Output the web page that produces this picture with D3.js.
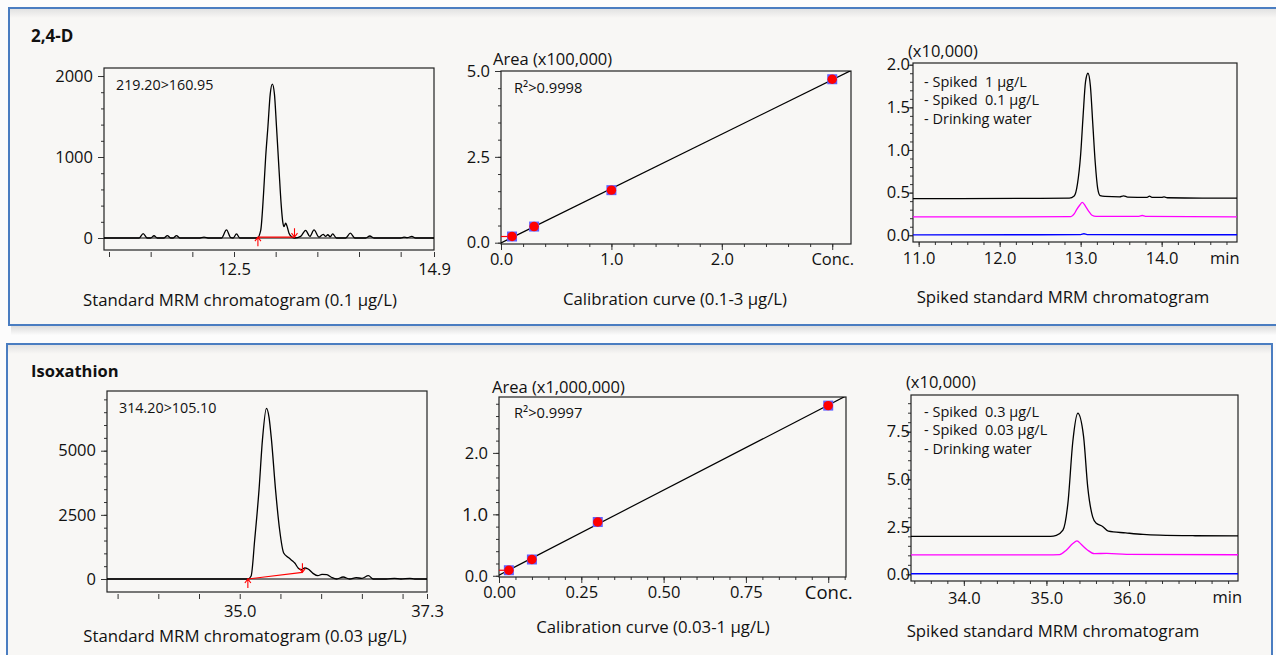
<!DOCTYPE html>
<html>
<head>
<meta charset="utf-8">
<script src="https://cdn.jsdelivr.net/npm/d3@7"></script>
<style>
  body { margin: 0; background: #fcfcfc; }
  svg { display: block; font-family: "Open Sans", sans-serif; }
</style>
</head>
<body>
<svg id="fig" width="1276" height="655"></svg>
<script>
// ---------------- data ----------------
const compounds = ['2,4-D', 'Isoxathion'];

// 2,4-D standard MRM chromatogram 0.1 ug/L  [min, intensity]
const d24Std = [[10.94,0],[11.36,0],[11.41,55],[11.46,0],[11.5,0],[11.54,28],[11.58,0],[11.66,0],[11.7,30],[11.74,0],
  [11.77,0],[11.81,30],[11.85,0],[12.08,0],[12.14,12],[12.2,0],[12.35,0],[12.41,100],[12.46,5],[12.49,0],[12.53,50],
  [12.57,0],[12.78,0],[12.82,90],[12.855,555],[12.88,1000],[12.907,1374],[12.935,1780],[12.96,1900],[12.985,1780],
  [13.01,1374],[13.04,850],[13.067,400],[13.085,200],[13.1,140],[13.12,185],[13.135,150],[13.16,60],[13.2,8],[13.23,0],
  [13.3,20],[13.36,95],[13.41,20],[13.46,100],[13.52,10],[13.57,45],[13.6,20],[13.625,40],[13.655,15],[13.684,50],
  [13.73,0],[13.84,0],[13.896,60],[13.95,0],[14.08,0],[14.13,25],[14.18,0],[14.5,0],[14.54,10],[14.58,5],[14.634,20],
  [14.68,0],[14.9,0]];
const d24Integ = [[12.787, 10], [13.226, 10]];
const d24Ion = '219.20>160.95';

// 2,4-D calibration
const d24Conc = [0.1, 0.3, 1.0, 3.0];
const d24Area = [0.18, 0.47, 1.53, 4.76];
const d24R2 = 'R²>0.9998';

// 2,4-D spiked chromatograms (x10,000)
const d24Spk1 = [[10.93,0.43],[11.5,0.43],[12.5,0.432],[12.86,0.435],[12.92,0.46],[12.96,0.6],[13.0,0.95],[13.03,1.4],
  [13.06,1.8],[13.09,1.9],[13.12,1.75],[13.15,1.3],[13.18,0.85],[13.21,0.55],[13.24,0.465],[13.3,0.455],[13.48,0.45],
  [13.53,0.462],[13.58,0.448],[13.82,0.445],[13.85,0.458],[13.88,0.444],[14.0,0.444],[14.03,0.45],[14.07,0.44],
  [14.5,0.435],[14.93,0.435]];
const d24Spk01 = [[10.93,0.215],[12.0,0.215],[12.88,0.218],[12.92,0.25],[12.95,0.3],[12.99,0.355],[13.02,0.385],
  [13.06,0.34],[13.1,0.28],[13.14,0.235],[13.19,0.222],[13.72,0.222],[13.76,0.232],[13.8,0.222],[14.93,0.215]];
const d24Water = [[10.93,0.005],[12.5,0.006],[13.0,0.008],[13.04,0.018],[13.08,0.008],[14.93,0.006]];
const d24Legend = ['- Spiked  1 µg/L', '- Spiked  0.1 µg/L', '- Drinking water'];

// Isoxathion standard MRM chromatogram 0.03 ug/L
const isoStd = [[33.37,0],[35.1,0],[35.14,120],[35.184,1530],[35.237,3475],[35.279,5420],[35.328,6650],[35.36,6300],
  [35.39,5420],[35.44,3475],[35.49,1918],[35.54,1012],[35.606,817],[35.65,700],[35.676,622],[35.72,420],[35.758,362],
  [35.8,430],[35.84,389],[35.9,220],[35.96,130],[36.01,180],[36.07,169],[36.13,60],[36.19,0],[36.27,78],[36.35,0],
  [36.43,52],[36.5,26],[36.58,130],[36.64,0],[36.8,0],[36.9,26],[36.98,0],[37.09,26],[37.15,0],[37.3,0]];
const isoInteg = [[35.1, 0], [35.77, 260]];
const isoIon = '314.20>105.10';

// Isoxathion calibration
const isoConc = [0.03, 0.1, 0.3, 1.0];
const isoArea = [0.09, 0.265, 0.875, 2.77];
const isoR2 = 'R²>0.9997';

// Isoxathion spiked chromatograms (x10,000)
const isoSpk03 = [[33.36,2.0],[34.5,2.0],[35.05,2.0],[35.12,2.05],[35.2,2.32],[35.26,3.73],[35.32,7.0],[35.38,8.47],
  [35.45,7.24],[35.5,4.6],[35.56,3.02],[35.6,2.7],[35.68,2.52],[35.75,2.27],[35.96,2.18],[36.17,2.1],[36.37,2.06],
  [36.8,2.03],[37.32,2.02]];
const isoSpk003 = [[33.36,1.02],[35.0,1.02],[35.16,1.04],[35.24,1.27],[35.32,1.62],[35.37,1.76],[35.42,1.58],
  [35.5,1.27],[35.58,1.09],[35.73,1.1],[35.97,1.05],[37.32,1.03]];
const isoWater = [[33.36,0.03],[35.2,0.03],[37.32,0.03]];
const isoLegend = ['- Spiked  0.3 µg/L', '- Spiked  0.03 µg/L', '- Drinking water'];

// tick values / labels
const d24StdYTicks = [0, 1000, 2000];
const d24StdXTicks = [11.0, 11.5, 12.0, 12.5, 13.0, 13.5, 14.0, 14.5, 14.9];
const d24StdXLabels = ['', '', '', '12.5', '', '', '', '', '14.9'];
const d24CalYTicks = [0, 2.5, 5.0];
const d24CalXTicks = [0, 1, 2, 3];
const d24CalXLabels = ['0.0', '1.0', '2.0', 'Conc.'];
const d24SpkYTicks = [0, 0.5, 1.0, 1.5, 2.0];
const d24SpkXTicks = [11, 12, 13, 14];
const isoStdYTicks = [0, 2500, 5000];
const isoStdXTicks = [33.5, 34.0, 34.5, 35.0, 35.5, 36.0, 36.5, 37.0, 37.3];
const isoStdXLabels = ['', '', '', '35.0', '', '', '', '', '37.3'];
const isoCalYTicks = [0, 1, 2];
const isoCalXTicks = [0, 0.25, 0.5, 0.75, 1.0];
const isoCalXLabels = ['0.00', '0.25', '0.50', '0.75', 'Conc.'];
const isoSpkYTicks = [0, 2.5, 5.0, 7.5];
const isoSpkXTicks = [34, 35, 36];

// ---------------- page ----------------
const svg = d3.select('#fig');
const defs = svg.append('defs');
const topShade = defs.append('linearGradient').attr('id', 'topShade')
  .attr('x1', 0).attr('y1', 0).attr('x2', 0).attr('y2', 1);
topShade.append('stop').attr('offset', '0%').attr('stop-color', '#e2e2e2');
topShade.append('stop').attr('offset', '100%').attr('stop-color', '#f8f7f5');
const dropShade = defs.append('linearGradient').attr('id', 'dropShade')
  .attr('x1', 0).attr('y1', 0).attr('x2', 0).attr('y2', 1);
dropShade.append('stop').attr('offset', '0%').attr('stop-color', '#d9d9d9');
dropShade.append('stop').attr('offset', '100%').attr('stop-color', '#fbfbfb');

const panels = [{x: 9, y: 8, w: 1270, h: 317}, {x: 7, y: 344, w: 1265, h: 330}];
panels.forEach(p => {
  svg.append('rect').attr('x', p.x + 2).attr('y', p.y + p.h).attr('width', p.w).attr('height', 10)
    .attr('fill', 'url(#dropShade)');
  svg.append('rect').attr('x', p.x).attr('y', p.y).attr('width', p.w).attr('height', p.h)
    .attr('fill', '#f8f7f5').attr('stroke', '#4a7dc1').attr('stroke-width', 2);
  svg.append('rect').attr('x', p.x + 1).attr('y', p.y + 1).attr('width', p.w - 2).attr('height', 9)
    .attr('fill', 'url(#topShade)');
});

function text(x, y, s, size, opts = {}) {
  return svg.append('text').attr('x', x).attr('y', y)
    .attr('text-anchor', opts.anchor || 'start')
    .style('font-size', size + 'px')
    .style('font-weight', opts.bold ? 'bold' : 'normal')
    .style('white-space', 'pre')
    .attr('fill', '#111').text(s);
}

// plot frame with scales + axes
function frame(o) {
  const w = o.box.r - o.box.l, h = o.box.b - o.box.t;
  const x = d3.scaleLinear().domain(o.xDomain).range([0, w]);
  const y = d3.scaleLinear().domain(o.yDomain).range([h, 0]);
  const g = svg.append('g').attr('transform', `translate(${o.box.l},${o.box.t})`);
  const clipId = 'clip' + Math.round(o.box.l) + Math.round(o.box.t);
  defs.append('clipPath').attr('id', clipId).append('rect').attr('width', w).attr('height', h);

  // y axis (minor, then major)
  g.append('g').attr('class', 'ax').call(d3.axisLeft(y).tickValues(o.yMinor).tickSize(3).tickFormat(''));
  g.append('g').attr('class', 'ax').call(d3.axisLeft(y).tickValues(o.yMajor)
    .tickSize(o.ySize).tickPadding(o.yPad).tickFormat(o.yFmt));
  // x axis
  const xg = g.append('g').attr('transform', `translate(0,${h + (o.xGap || 0)})`);
  if (o.xMinor) xg.append('g').attr('class', 'ax').call(d3.axisBottom(x).tickValues(o.xMinor).tickSize(3).tickFormat(''));
  xg.append('g').attr('class', 'ax').call(d3.axisBottom(x).tickValues(o.xMajor)
    .tickSize(o.xSize).tickPadding(o.xPad).tickFormat((d, i) => o.xLabels[i]));

  g.selectAll('.ax .domain').remove();
  g.selectAll('.ax line').attr('stroke', '#333');
  g.selectAll('.ax text').style('font-size', '16.5px').style('font-family', '"Open Sans", sans-serif').attr('fill', '#111');

  g.append('rect').attr('width', w).attr('height', h).attr('fill', 'none')
    .attr('stroke', '#222').attr('stroke-width', 1.2);
  const plot = g.append('g').attr('clip-path', `url(#${clipId})`);
  return {g, plot, x, y, w, h};
}

const line = (x, y) => d3.line().x(d => x(d[0])).y(d => y(d[1])).curve(d3.curveMonotoneX);

// standard MRM chromatogram
function drawStd(o) {
  const f = frame(o);
  f.plot.append('line').attr('x1', 0).attr('x2', f.w).attr('y1', f.y(0)).attr('y2', f.y(0))
    .attr('stroke', '#000').attr('stroke-width', 1.2);
  f.plot.append('path').datum(o.data).attr('d', line(f.x, f.y)).attr('fill', 'none')
    .attr('stroke', '#000').attr('stroke-width', 1.3);
  // integration baseline with arrows
  const [a, b] = o.integ.map(d => [f.x(d[0]), f.y(d[1])]);
  f.plot.append('line').attr('x1', a[0]).attr('y1', a[1]).attr('x2', b[0]).attr('y2', b[1])
    .attr('stroke', '#f00').attr('stroke-width', 1.2);
  f.g.append('path').attr('d', `M${a[0]},${a[1] + 9}V${a[1]}M${a[0] - 3},${a[1] + 4}L${a[0]},${a[1]}L${a[0] + 3},${a[1] + 4}`)
    .attr('fill', 'none').attr('stroke', '#f00').attr('stroke-width', 1.1);
  f.g.append('path').attr('d', `M${b[0]},${b[1] - 9}V${b[1]}M${b[0] - 3},${b[1] - 4}L${b[0]},${b[1]}L${b[0] + 3},${b[1] - 4}`)
    .attr('fill', 'none').attr('stroke', '#f00').attr('stroke-width', 1.1);
  text(o.ionPos[0], o.ionPos[1], o.ion, 14.3);
  text(o.titlePos[0], o.titlePos[1], o.title, 16.75, {anchor: 'middle'});
}

// calibration curve
function drawCal(o) {
  const f = frame(o);
  // least squares fit of the points
  const mx = d3.mean(o.conc), my = d3.mean(o.area);
  const sxy = d3.sum(o.conc, (c, i) => (c - mx) * (o.area[i] - my));
  const sxx = d3.sum(o.conc, c => (c - mx) ** 2);
  const k = sxy / sxx, b0 = my - k * mx;
  const xe = o.xDomain[1];
  f.plot.append('line').attr('x1', f.x(0)).attr('y1', f.y(b0)).attr('x2', f.x(xe)).attr('y2', f.y(b0 + k * xe))
    .attr('stroke', '#000').attr('stroke-width', 1.2);
  const pts = o.conc.map((c, i) => [c, o.area[i]]);
  f.g.append('line').attr('x1', 0).attr('x2', f.x(pts[0][0])).attr('y1', f.y(pts[0][1])).attr('y2', f.y(pts[0][1]))
    .attr('stroke', '#f00').attr('stroke-width', 1.2);
  f.g.selectAll('rect.pt').data(pts).enter().append('rect').attr('class', 'pt')
    .attr('x', d => f.x(d[0]) - 5).attr('y', d => f.y(d[1]) - 5).attr('width', 10).attr('height', 10)
    .attr('fill', '#6060ff');
  f.g.selectAll('circle.pt').data(pts).enter().append('circle').attr('class', 'pt')
    .attr('cx', d => f.x(d[0])).attr('cy', d => f.y(d[1])).attr('r', 4.7).attr('fill', '#ff0000');
  if (o.concSize) f.g.selectAll('.ax text').filter(t => t === o.xMajor[o.xMajor.length - 1]).style('font-size', o.concSize + 'px');
  text(o.areaPos[0], o.areaPos[1], o.areaLabel, 16.5);
  text(o.r2Pos[0], o.r2Pos[1], o.r2, 14.7);
  text(o.titlePos[0], o.titlePos[1], o.title, 16.75, {anchor: 'middle'});
}

// spiked standard chromatograms
function drawSpk(o) {
  const f = frame(o);
  const colors = ['#000000', '#ff00ff', '#0000ff'];
  o.series.forEach((s, i) => {
    f.plot.append('path').datum(s).attr('d', line(f.x, f.y)).attr('fill', 'none')
      .attr('stroke', colors[i]).attr('stroke-width', 1.3);
  });
  f.g.append('text').attr('x', f.x(o.minAt)).attr('y', f.h + o.minDy).attr('text-anchor', 'middle')
    .style('font-size', '16.5px').attr('fill', '#111').text('min');
  o.legend.forEach((s, i) => text(o.legPos[0], o.legPos[1] + i * 18.3, s, 14.5));
  text(o.unitPos[0], o.unitPos[1], '(x10,000)', 16.5);
  text(o.titlePos[0], o.titlePos[1], o.title, 16.75, {anchor: 'middle'});
}

// ---------------- 2,4-D ----------------
text(31, 42, compounds[0], 17, {bold: true});
drawStd({
  box: {l: 104, t: 68, r: 434, b: 250}, xDomain: [10.94, 14.9], yDomain: [-148, 2099],
  yMajor: d24StdYTicks, yMinor: d3.range(0, 2001, 200), ySize: 6, yPad: 5, yFmt: d => d,
  xMajor: d24StdXTicks, xLabels: d24StdXLabels, xSize: 5, xPad: 6.6, xGap: 2,
  data: d24Std, integ: d24Integ, ion: d24Ion, ionPos: [116, 90],
  title: 'Standard MRM chromatogram (0.1 µg/L)', titlePos: [240, 306]
});
drawCal({
  box: {l: 501, t: 71, r: 851, b: 244}, xDomain: [0, 3.17], yDomain: [-0.038, 5.0],
  yMajor: d24CalYTicks, yMinor: d3.range(0, 5.01, 0.5), ySize: 6, yPad: 5, yFmt: d3.format('.1f'),
  xMajor: d24CalXTicks, xMinor: d3.range(0, 3.1, 0.2), xLabels: d24CalXLabels, xSize: 6, xPad: 3.6,
  conc: d24Conc, area: d24Area, r2: d24R2, r2Pos: [514, 93],
  areaLabel: 'Area (x100,000)', areaPos: [493, 65],
  title: 'Calibration curve (0.1-3 µg/L)', titlePos: [675, 305]
});
drawSpk({
  box: {l: 913, t: 63, r: 1237, b: 242}, xDomain: [10.93, 14.93], yDomain: [-0.079, 2.02],
  yMajor: d24SpkYTicks, yMinor: d3.range(0, 2.01, 0.1), ySize: 5, yPad: -2, yFmt: d3.format('.1f'),
  xMajor: d24SpkXTicks, xMinor: d3.range(11, 14.95, 0.2), xLabels: d24SpkXTicks.map(d3.format('.1f')), xSize: 5, xPad: 5.6,
  series: [d24Spk1, d24Spk01, d24Water], legend: d24Legend, legPos: [924, 87],
  minAt: 14.78, minDy: 22, unitPos: [908, 57],
  title: 'Spiked standard MRM chromatogram', titlePos: [1063, 303]
});

// ---------------- Isoxathion ----------------
text(31, 377, compounds[1], 16.5, {bold: true});
drawStd({
  box: {l: 107, t: 391, r: 427, b: 592}, xDomain: [33.37, 37.3], yDomain: [-506, 7326],
  yMajor: isoStdYTicks, yMinor: d3.range(0, 7001, 500), ySize: 6, yPad: 5, yFmt: d => d,
  xMajor: isoStdXTicks, xLabels: isoStdXLabels, xSize: 5, xPad: 6.6, xGap: 2,
  data: isoStd, integ: isoInteg, ion: isoIon, ionPos: [119, 413],
  title: 'Standard MRM chromatogram (0.03 µg/L)', titlePos: [245, 642]
});
drawCal({
  box: {l: 499, t: 397, r: 846, b: 577}, xDomain: [0, 1.054], yDomain: [-0.02, 2.91],
  yMajor: isoCalYTicks, yMinor: d3.range(0, 2.81, 0.2), ySize: 6, yPad: 5, yFmt: d3.format('.1f'),
  xMajor: isoCalXTicks, xMinor: d3.range(0, 1.051, 0.05), xLabels: isoCalXLabels, xSize: 6, xPad: 3,
  conc: isoConc, area: isoArea, r2: isoR2, r2Pos: [514, 418], concSize: 18.5,
  areaLabel: 'Area (x1,000,000)', areaPos: [492, 393],
  title: 'Calibration curve (0.03-1 µg/L)', titlePos: [653, 633]
});
drawSpk({
  box: {l: 911, t: 395, r: 1238, b: 581}, xDomain: [33.36, 37.32], yDomain: [-0.35, 9.43],
  yMajor: isoSpkYTicks, yMinor: d3.range(0, 9.01, 0.5), ySize: 5, yPad: -4, yFmt: d3.format('.1f'),
  xMajor: isoSpkXTicks, xMinor: d3.range(33.4, 37.3, 0.2), xLabels: isoSpkXTicks.map(d3.format('.1f')), xSize: 5, xPad: 6.2,
  series: [isoSpk03, isoSpk003, isoWater], legend: isoLegend, legPos: [924, 417],
  minAt: 37.19, minDy: 22, unitPos: [906, 388],
  title: 'Spiked standard MRM chromatogram', titlePos: [1053, 637]
});
</script>
</body>
</html>
